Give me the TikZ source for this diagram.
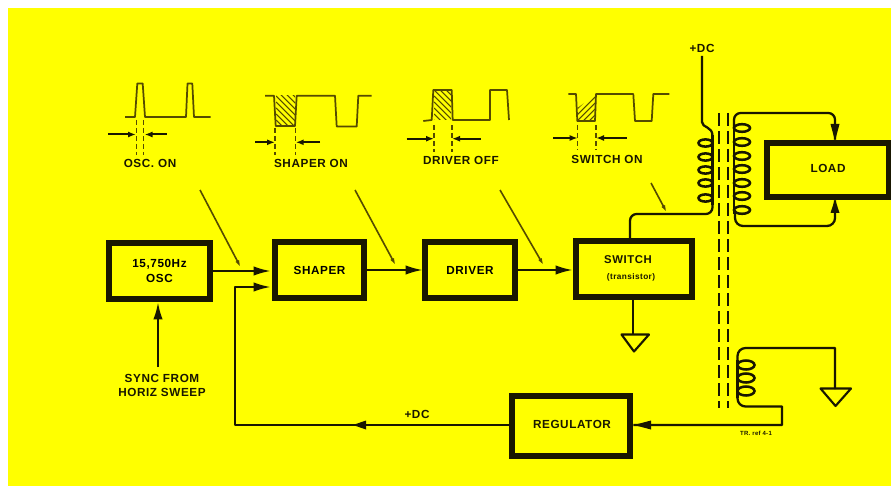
\documentclass[tikz,border=0pt]{standalone}
\usepackage{fontspec}
\setmainfont{Liberation Sans}[LetterSpace=5]
\usetikzlibrary{arrows.meta}
\definecolor{ybg}{RGB}{255,255,0}
\definecolor{ink}{RGB}{25,23,0}
\definecolor{thin}{RGB}{85,75,0}
\newcommand{\lab}{\bfseries\fontsize{8.8pt}{10pt}\selectfont}
\tikzset{
  blockbox/.style={draw=ink,line width=4.4pt,fill=ybg,inner sep=0pt,font=\lab,align=center},
  tag/.style={text=ink,inner sep=0pt,font=\lab,align=center},
  wire/.style={draw=ink,line width=1.7pt,line join=round},
  feed/.style={wire,-{Latex[length=13pt,width=7pt]}},
  pointer/.style={draw=thin,line width=1.2pt,-{Latex[length=6pt,width=3pt]}},
  wave/.style={draw=thin,line width=1.3pt,line join=round},
  guide/.style={draw=thin,line width=1pt,dash pattern=on 3.5pt off 2.5pt},
  dim/.style={draw=ink,line width=1.5pt,-{Latex[length=6pt,width=4.5pt]}},
  hatch/.style={draw=thin,line width=0.8pt},
  core/.style={draw=ink,line width=2.2pt,dash pattern=on 10pt off 3.5pt},
  coil/.style={draw=ink,line width=1.9pt},
  ground/.style={draw=ink,line width=1.6pt,line join=round},
}
\begin{document}
\begin{tikzpicture}[x=0.75pt,y=-0.75pt]
\useasboundingbox (0,0) rectangle (891,488);
\fill[white] (0,0) rectangle (891,488);
\fill[ybg] (8,8) rectangle (891,486);

% blocks
\node[blockbox,minimum width=75.5pt,minimum height=42pt] (osc) at (159.5,271) {15,750Hz\\[1pt]OSC};
\node[blockbox,minimum width=67pt,minimum height=42pt] (shaper) at (319.5,270) {SHAPER};
\node[blockbox,minimum width=67pt,minimum height=42pt] (driver) at (470,270) {DRIVER};
\node[blockbox,minimum width=87pt,minimum height=42pt] (switch) at (634,269) {};
\node[tag,font=\bfseries\fontsize{8.5pt}{10pt}\selectfont] (switchtxt) at (628,260) {SWITCH};
\node[tag,font=\bfseries\fontsize{6.2pt}{7pt}\selectfont] (transtxt) at (631,277) {(transistor)};
\node[blockbox,minimum width=92pt,minimum height=41pt] (load) at (828,170) {};
\node[tag] (loadtxt) at (828,168) {LOAD};
\node[blockbox,minimum width=89pt,minimum height=44.5pt] (reg) at (571,426) {};
\node[tag] (regtxt) at (572,424) {REGULATOR};

% labels
\node[tag] (t1) at (150,163) {OSC. ON};
\node[tag] (t2) at (311,163) {SHAPER ON};
\node[tag] (t3) at (461,160) {DRIVER OFF};
\node[tag] (t4) at (607,159) {SWITCH ON};
\node[tag] (sync) at (162,385.5) {SYNC FROM\\[1pt]HORIZ SWEEP};
\node[tag] (dc1) at (702,48) {+DC};
\node[tag] (dc2) at (417,414) {+DC};

% coordinates
\coordinate (syncup) at (158,367);
\coordinate (fbA) at (235,425);
\coordinate (fbB) at (235,287);
\coordinate (fbC) at (271,287);
\coordinate (shin) at (271,271);
\coordinate (oscout) at (212,271);
\coordinate (shout) at (367,270);
\coordinate (drin) at (423,270);
\coordinate (drout) at (517,270);
\coordinate (swin) at (573,270);

% main signal arrows
\draw[feed] (oscout) -- (shin);
\draw[feed] (shout) -- (drin);
\draw[feed] (drout) -- (swin);
\draw[feed] (syncup) -- (158,302);
\draw[feed] (reg.west |- fbA) -- (fbA) -- (fbB) -- (fbC);
\fill[ink] (353,425) -- (366,420.5) -- (366,429.5) -- cycle;

% pointers
\coordinate (p1a) at (200,190); \coordinate (p1b) at (241,268);
\coordinate (p2a) at (355,190); \coordinate (p2b) at (396,266);
\coordinate (p3a) at (500,190); \coordinate (p3b) at (544,266);
\coordinate (p4a) at (651,183); \coordinate (p4b) at (667,213);
\draw[pointer] (p1a) -- (p1b);
\draw[pointer] (p2a) -- (p2b);
\draw[pointer] (p3a) -- (p3b);
\draw[pointer] (p4a) -- (p4b);

% waveforms
\draw[wave] (125,117) -- (135,117) -- (137.3,83.5) -- (142.7,83.5) -- (145,117) -- (186,117) -- (187.5,83.5) -- (192.3,83.5) -- (194,117) -- (210.7,117);
\draw[wave] (265,95.7) -- (274,95.7) -- (275.7,126) -- (295,126) -- (296.7,95.7) -- (335,95.7) -- (336.7,126.5) -- (356.7,126.5) -- (358.3,95.7) -- (371.7,95.7);
\draw[wave] (423.3,121) -- (431.7,120) -- (433.3,90) -- (451.7,90) -- (452.7,120) -- (490,120) -- (490,90) -- (507,90) -- (509,120);
\draw[wave] (568.3,94) -- (576,94) -- (577.3,121) -- (595,121) -- (596,94) -- (633.3,94) -- (635,121) -- (651.7,121) -- (653.3,94) -- (669.3,94);

% hatching
\begin{scope}
\clip (276,96) rectangle (295,126);
\foreach \d in {-30,-24,...,30} \draw[hatch] (276,96+\d) -- (306,126+\d);
\end{scope}
\begin{scope}
\clip (434,90) rectangle (451,120);
\foreach \d in {-30,-24,...,30} \draw[hatch] (434,90+\d) -- (464,120+\d);
\end{scope}
\begin{scope}
\clip (577.5,121) -- (577.5,108) -- (595,95) -- (595,121) -- cycle;
\foreach \d in {-30,-24,...,30} \draw[hatch] (577,121+\d) -- (607,91+\d);
\end{scope}

% guides and width arrows
\draw[guide] (136.7,120) -- (136.7,155);
\draw[guide] (143.7,120) -- (143.7,155);
\draw[dim] (108,134.5) -- (136,134.5);
\draw[dim] (166.7,134.5) -- (144.5,134.5);
\draw[guide] (275,128) -- (275,155);
\draw[guide] (295.7,128) -- (295.7,155);
\draw[dim] (255,142.3) -- (275,142.3);
\draw[dim] (320,142.3) -- (295.7,142.3);
\draw[guide] (434,125) -- (434,152);
\draw[guide] (452,125) -- (452,152);
\draw[dim] (406.7,138.7) -- (434,138.7);
\draw[dim] (480.7,138.7) -- (452,138.7);
\draw[guide] (577.7,125) -- (577.7,150);
\draw[guide] (596,125) -- (596,150);
\draw[dim] (553,138) -- (577.7,138);
\draw[dim] (626.7,138) -- (596,138);

% transformer core
\coordinate (c1t) at (719,113); \coordinate (c1b) at (719,408);
\coordinate (c2t) at (728,113); \coordinate (c2b) at (728,408);
\draw[core] (c1t) -- (c1b);
\draw[core] (c2t) -- (c2b);

% primary
\coordinate (dctop) at (702,56);
\draw[wire] (dctop) -- (702,122) .. controls (702,128) and (712.5,126) .. (712.5,136);
\foreach \y in {143,157,170,183,198} \draw[coil] (705.5,\y) ellipse [x radius=7,y radius=3.6];
\draw[coil] (712.5,135) -- (712.5,205);
\draw[wire] (712.5,203) [rounded corners=5pt] -- (712.5,214) -- (630,214) [sharp corners] -- (630,238);

% secondary
\coordinate (sT) at (835,113);
\coordinate (sB) at (835,226);
\draw[wire] (734,128) [rounded corners=5pt] -- (734,113) -- (sT) [sharp corners] -- (sT |- load.north);
\fill[ink] (835,141) -- (830.5,124) -- (839.5,124) -- cycle;
\foreach \y in {128,142,156,169,183,196,210} \draw[coil] (742,\y) ellipse [x radius=8,y radius=3.8];
\draw[coil] (734,124) -- (734,214);
\draw[wire] (735,210) [rounded corners=6pt] -- (735,226) -- (sB) [sharp corners] -- (sB |- load.south);
\fill[ink] (835,199) -- (830.5,213) -- (839.5,213) -- cycle;

% feedback winding
\coordinate (gT) at (835,348);
\coordinate (gB) at (835,389);
\foreach \y in {365,378,391} \draw[coil] (746,\y) ellipse [x radius=8.5,y radius=4.5];
\draw[coil] (737.5,360) -- (737.5,398);
\draw[wire] (gB) -- (gT) [rounded corners=6pt] -- (737.5,348) [sharp corners] -- (737.5,362);
\draw[wire] (737.5,395) [rounded corners=6pt] -- (737.5,406.5) [sharp corners] -- (782,406.5) -- (782,425) -- (reg.east |- 782,425);
\fill[ink] (634,425) -- (651,420.5) -- (651,429.5) -- cycle;

% grounds
\coordinate (sg) at (633,334);
\draw[wire] (switch.south -| sg) -- (sg);
\draw[ground] (621.5,334.5) -- (649,334.5) -- (634,351.5) -- cycle;
\draw[ground] (820.5,388.5) -- (851,388.5) -- (835.5,406) -- cycle;

% credit
\node[tag,font=\bfseries\fontsize{4.5pt}{5pt}\selectfont] (credit) at (756,433) {TR. ref 4-1};
\end{tikzpicture}
\end{document}
